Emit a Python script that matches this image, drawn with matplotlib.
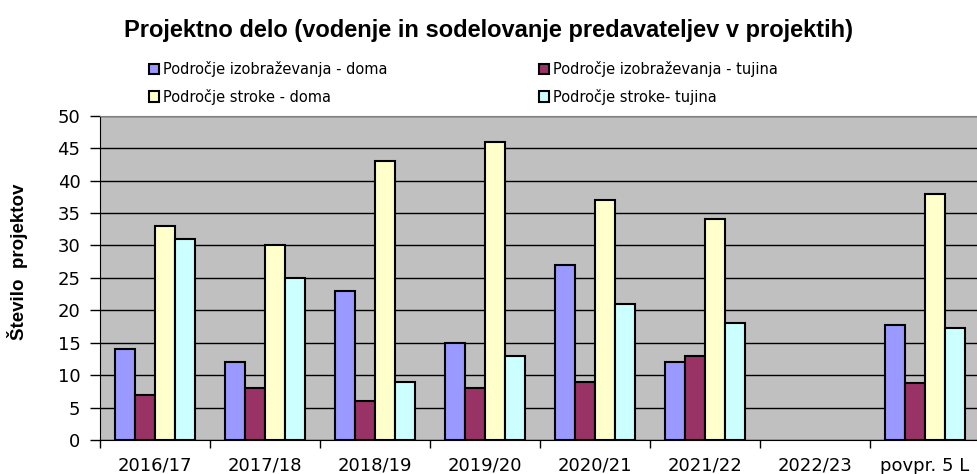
import numpy as np
from matplotlib import pyplot as plt
from matplotlib.ticker import FixedLocator

categories = ['2016/17', '2017/18', '2018/19', '2019/20', '2020/21', '2021/22', '2022/23', 'povpr. 5 L']
izobr_doma = [14, 12, 23, 15, 27, 12, np.nan, 17.8]
izobr_tujina = [7, 8, 6, 8, 9, 13, np.nan, 8.8]
stroka_doma = [33, 30, 43, 46, 37, 34, np.nan, 38]
stroka_tujina = [31, 25, 9, 13, 21, 18, np.nan, 17.2]

labels = ['Področje izobraževanja - doma', 'Področje izobraževanja - tujina',
          'Področje stroke - doma', 'Področje stroke- tujina']
colors = ['#9999FF', '#993366', '#FFFFCC', '#CCFFFF']

plt.rcParams['font.family'] = ['DejaVu Sans']

fig = plt.figure(figsize=(9.77, 4.74), dpi=100)
ax = fig.add_axes([100/977, 34/474, 880/977, 324.3/474])
ax.set_facecolor('#C0C0C0')

x = np.arange(len(categories))
w = 0.182
series = [izobr_doma, izobr_tujina, stroka_doma, stroka_tujina]
bars = []
for i, vals in enumerate(series):
    b = ax.bar(x + (i - 1.5) * w, vals, w, color=colors[i], edgecolor='black',
               linewidth=1.5, zorder=3, label=labels[i])
    bars.append(b)

ax.set_ylim(0, 50)
ax.set_xlim(-0.5, len(categories) - 0.5)
ax.set_yticks(range(0, 51, 5))
ax.yaxis.grid(True, color='black', linewidth=1)
ax.set_axisbelow(True)
ax.set_xticks(x)
ax.set_xticklabels(categories, fontsize=13)
ax.xaxis.set_minor_locator(FixedLocator(np.arange(-0.5, len(categories), 1)))
ax.tick_params(axis='x', which='major', length=0, pad=12)
ax.tick_params(axis='x', which='minor', length=6, width=1, color='black')
ax.tick_params(axis='y', length=7, width=1, labelsize=13, pad=7)
for s in ['top', 'right']:
    ax.spines[s].set_color('#808080')

fig.text(18/977, 1 - 262/474, 'Število  projektov', rotation=90, ha='center', va='center',
         fontsize=13.5, fontweight='bold', family=['Liberation Sans', 'DejaVu Sans'])

fig.text(0.5, 1 - 31/474, 'Projektno delo (vodenje in sodelovanje predavateljev v projektih)',
         ha='center', va='center', fontsize=17, fontweight='bold',
         family=['Liberation Sans', 'DejaVu Sans'])

order = [0, 2, 1, 3]
leg = fig.legend([bars[i] for i in order], [labels[i] for i in order], ncol=2,
                 loc='center left', bbox_to_anchor=(149/977, 1 - 83/474), frameon=False,
                 prop={'size': 10.5}, handlelength=0.7, handleheight=0.7,
                 handletextpad=0.25, columnspacing=10.4, labelspacing=0.78, borderaxespad=0,
                 borderpad=0)

fig.savefig('out.png', dpi=100)
